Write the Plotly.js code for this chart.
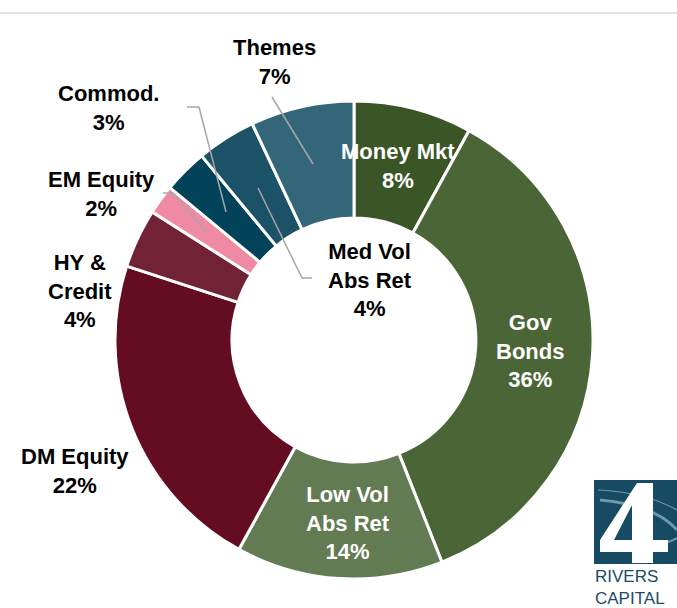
<!DOCTYPE html>
<html>
<head>
<meta charset="utf-8">
<script src="https://cdn.plot.ly/plotly-3.0.1.min.js"></script>
<style>html,body{margin:0;padding:0;background:#fff;}#chart{width:677px;height:608px;}</style>
</head>
<body>
<div id="chart"></div>
<script>
// ---- data ----
var categories = ["Money Mkt", "Gov Bonds", "Low Vol Abs Ret", "DM Equity", "HY & Credit", "EM Equity", "Commod.", "Med Vol Abs Ret", "Themes"];
var values = [8, 36, 14, 22, 4, 2, 3, 4, 7];
var labelText = ["Money Mkt", "Gov<br>Bonds", "Low Vol<br>Abs Ret", "DM Equity", "HY &<br>Credit", "EM Equity", "Commod.", "Med Vol<br>Abs Ret", "Themes"];
var sliceColors = ["#3a5526", "#4b6636", "#637b53", "#630c22", "#722236", "#f08aa4", "#03435a", "#1c5268", "#346679"];
var insideWhite = [true, true, true, false, false, false, false, false, false];
var logoLines = ["RIVERS", "CAPITAL"];

// ---- layout helpers (pixel -> paper) ----
var W = 677, H = 608;
function px(x){ return x / W; }
function py(y){ return 1 - y / H; }
var cx = 354, cy = 340, R = 239;

// label centres (pixels), in category order
var labelPos = [[398,166],[530,351],[348,523],[75,471],[80,291],[101,194],[108,108],[370,280],[274,62]];

var annotations = categories.map(function(c, i){
  return {
    xref: "paper", yref: "paper",
    x: px(labelPos[i][0]), y: py(labelPos[i][1]),
    xanchor: "center", yanchor: "middle",
    text: labelText[i] + "<br>" + values[i] + "%",
    showarrow: false,
    font: {family: "Liberation Sans, Arial, sans-serif", size: 22, weight: "bold", color: insideWhite[i] ? "#ffffff" : "#000000"}
  };
});

// logo text
annotations.push({xref:"paper", yref:"paper", x: px(593), y: py(587), xanchor:"left", yanchor:"middle", align:"left",
  text: logoLines.join("<br>"), showarrow:false, font:{family:"Liberation Sans, Arial, sans-serif", size:17, color:"#1c4b66"}});

var leader = {color: "#a6a6a6", width: 1.5};
function seg(x0,y0,x1,y1){ return {type:"line", xref:"paper", yref:"paper", x0:px(x0), y0:py(y0), x1:px(x1), y1:py(y1), line:leader, layer:"above"}; }
function poly(pts){ return pts.map(function(p, k){ return (k ? "L " : "M ") + px(p[0]) + "," + py(p[1]); }).join(" ") + " Z"; }

var four = poly([[637,483],[653,483],[653,540],[668,540],[668,552],[653,552],[653,563],[632,563],[632,552],[600,552],[600,540]]) + " " +
           poly([[632,505],[614,540],[632,540]]);

var shapes = [
  // top rule
  {type:"line", xref:"paper", yref:"paper", x0:0, x1:1, y0:py(13), y1:py(13), line:{color:"#d9d9d9", width:1.5}},
  // leader lines
  seg(272,97,313,164),
  seg(187,107,199,107), seg(199,107,226,212),
  seg(163,193,173,193), seg(173,193,207,233),
  seg(258,188,302,278), seg(302,278,312,278),
  // logo block
  {type:"rect", xref:"paper", yref:"paper", x0:px(594), x1:px(680), y0:py(564), y1:py(480), fillcolor:"#174b63", line:{width:0}},
  {type:"path", xref:"paper", yref:"paper", path:"M "+px(598)+","+py(490)+" Q "+px(645)+","+py(492)+" "+px(677)+","+py(510), line:{color:"#6f98ae", width:1.2}},
  {type:"path", xref:"paper", yref:"paper", path:"M "+px(600)+","+py(500)+" Q "+px(655)+","+py(505)+" "+px(677)+","+py(530), line:{color:"#6f98ae", width:3}},
  {type:"path", xref:"paper", yref:"paper", path:"M "+px(640)+","+py(548)+" Q "+px(665)+","+py(545)+" "+px(677)+","+py(538), line:{color:"#6f98ae", width:2}},
  {type:"path", xref:"paper", yref:"paper", path: four, fillcolor:"#ffffff", line:{width:0}}
];

var trace = {
  type: "pie",
  labels: categories,
  values: values,
  sort: false,
  direction: "clockwise",
  rotation: 0,
  hole: 0.51,
  textinfo: "none",
  hoverinfo: "label+percent",
  marker: {colors: sliceColors, line: {color: "#ffffff", width: 3}},
  domain: {x: [px(cx - R), px(cx + R)], y: [py(cy + R), py(cy - R)]},
  showlegend: false
};

var layout = {
  width: W, height: H,
  margin: {l:0, r:0, t:0, b:0},
  paper_bgcolor: "#ffffff",
  plot_bgcolor: "#ffffff",
  showlegend: false,
  annotations: annotations,
  shapes: shapes
};

Plotly.newPlot("chart", [trace], layout, {displayModeBar: false, staticPlot: true});
</script>
</body>
</html>
